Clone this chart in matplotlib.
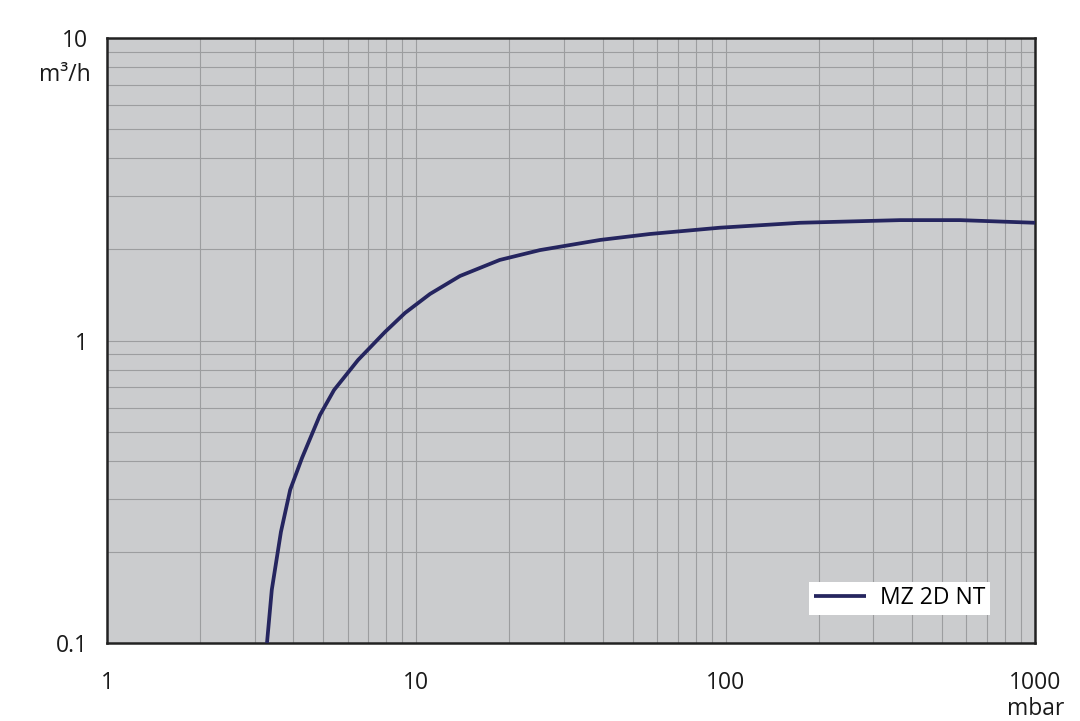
import matplotlib
matplotlib.use("Agg")
import matplotlib.pyplot as plt
from matplotlib.ticker import LogLocator, NullFormatter

pressure_mbar = [3.29, 3.41, 3.65, 3.91, 4.27, 4.88, 5.42, 6.48, 7.92, 9.19, 11.07,
                 13.84, 18.6, 25.1, 39.3, 57, 95.9, 174, 366, 573, 1000]
speed_m3h = [0.1, 0.150, 0.233, 0.321, 0.409, 0.567, 0.686, 0.862, 1.067, 1.233, 1.425,
             1.634, 1.846, 1.99, 2.15, 2.25, 2.36, 2.45, 2.50, 2.50, 2.45]
series_label = "MZ 2D NT"
x_ticks = [1, 10, 100, 1000]
x_tick_labels = ["1", "10", "100", "1000"]
y_ticks = [0.1, 1, 10]
y_tick_labels = ["0.1", "1", "10"]
x_unit = "mbar"
y_unit = "m³/h"

plt.rcParams['font.family'] = ['Open Sans', 'DejaVu Sans']
FS = 16.5

fig = plt.figure(figsize=(10.8, 7.21), dpi=100)
ax = fig.add_axes([107/1080, 1-643/721, (1035-107)/1080, (643-38)/721])
ax.set_facecolor('#cbccce')
ax.set_xscale('log')
ax.set_yscale('log')
ax.set_xlim(1, 1000)
ax.set_ylim(0.1, 10)

ax.plot(pressure_mbar, speed_m3h, color='#25255f', lw=2.7, label=series_label,
        solid_capstyle='butt', solid_joinstyle='round', zorder=3)

ax.xaxis.set_minor_locator(LogLocator(base=10, subs=range(2, 10)))
ax.yaxis.set_minor_locator(LogLocator(base=10, subs=range(2, 10)))
ax.xaxis.set_minor_formatter(NullFormatter())
ax.yaxis.set_minor_formatter(NullFormatter())
ax.set_xticks(x_ticks)
ax.set_xticklabels(x_tick_labels)
ax.set_yticks(y_ticks)
ax.set_yticklabels(y_tick_labels)
ax.grid(True, which='both', color='#9c9d9f', lw=0.8, zorder=1)
ax.set_axisbelow(True)
ax.tick_params(which='both', length=0, labelsize=FS, colors='#1a1a1a')
ax.tick_params(axis='x', pad=20)
ax.tick_params(axis='y', pad=14)

for s in ax.spines.values():
    s.set_color('#222222')
    s.set_linewidth(1.8)

fig.text(1036/1080, 1-709/721, x_unit, ha='center', va='center', fontsize=FS, color='#1a1a1a')
fig.text(91/1080, 1-75/721, y_unit, ha='right', va='center', fontsize=FS, color='#1a1a1a')

leg = ax.legend(loc='lower right', bbox_to_anchor=(990/1080, 1-615/721),
                bbox_transform=fig.transFigure, frameon=True, fancybox=False,
                framealpha=1, edgecolor='white', facecolor='white', fontsize=FS,
                handlelength=2.3, borderpad=0.2, borderaxespad=0, handletextpad=0.6)
leg.get_frame().set_linewidth(0)

fig.savefig('out.png', dpi=100)
